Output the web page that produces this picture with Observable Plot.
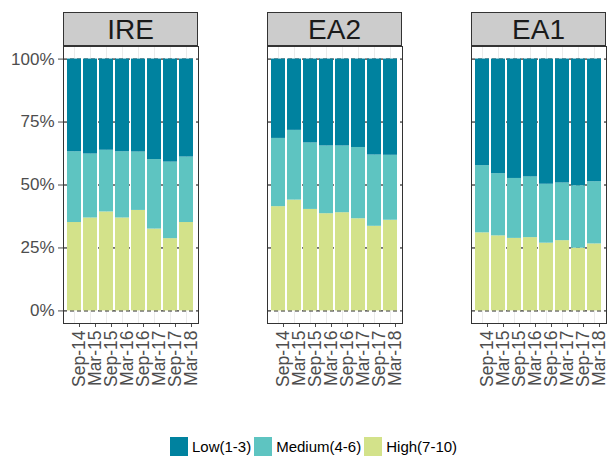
<!DOCTYPE html>
<html><head><meta charset="utf-8">
<script src="https://cdn.jsdelivr.net/npm/d3@7"></script>
<script src="https://cdn.jsdelivr.net/npm/@observablehq/plot@0.6"></script>
<style>
body{margin:0;background:#fff;font-family:"Liberation Sans",Arial,sans-serif;}
#wrap{position:relative;width:609px;height:457px;overflow:hidden;}
#legend{position:absolute;left:170px;top:437px;display:flex;align-items:center;font-size:15px;color:#000;white-space:nowrap;}
.item{display:flex;align-items:center;margin-right:3px;}
.sw{width:18px;height:19px;margin-right:4px;}
</style></head><body><div id="wrap"><div id="chart"></div><div id="legend"></div></div>
<script>
const regions = ["IRE", "EA2", "EA1"];
const periods = ["Sep-14", "Mar-15", "Sep-15", "Mar-16", "Sep-16", "Mar-17", "Sep-17", "Mar-18"];
const levels = ["Low(1-3)", "Medium(4-6)", "High(7-10)"];
const levelColors = ["#00829f", "#5ec4c1", "#d3e28a"];

// shares in percent, per region, per period
const highIRE = [35.1, 36.9, 39.3, 36.9, 39.9, 32.5, 28.7, 35.1];
const mediumIRE = [28.1, 25.4, 24.5, 26.3, 23.2, 27.6, 30.4, 26.0];
const lowIRE = [36.8, 37.7, 36.2, 36.8, 36.9, 39.9, 40.9, 38.9];

const highEA2 = [41.4, 44.0, 40.3, 38.6, 39.0, 36.6, 33.6, 36.0];
const mediumEA2 = [27.1, 27.7, 26.4, 26.9, 26.5, 28.3, 28.3, 25.8];
const lowEA2 = [31.5, 28.3, 33.3, 34.5, 34.5, 35.1, 38.1, 38.2];

const highEA1 = [31.0, 29.8, 28.8, 29.1, 26.9, 27.9, 24.9, 26.6];
const mediumEA1 = [26.7, 24.7, 23.8, 24.1, 23.4, 22.9, 24.8, 24.7];
const lowEA1 = [42.3, 45.5, 47.4, 46.8, 49.7, 49.2, 50.3, 48.7];

const yTicks = [0, 0.25, 0.5, 0.75, 1];

const series = {
  IRE: {"High(7-10)": highIRE, "Medium(4-6)": mediumIRE, "Low(1-3)": lowIRE},
  EA2: {"High(7-10)": highEA2, "Medium(4-6)": mediumEA2, "Low(1-3)": lowEA2},
  EA1: {"High(7-10)": highEA1, "Medium(4-6)": mediumEA1, "Low(1-3)": lowEA1}
};
// stack order: High at bottom, then Medium, then Low
const stackOrder = ["High(7-10)", "Medium(4-6)", "Low(1-3)"];
const data = [];
for (const r of regions) {
  periods.forEach((p, i) => {
    for (const lv of stackOrder) data.push({region: r, period: p, level: lv, value: series[r][lv][i]});
  });
}

const font = "'Liberation Sans', Arial, sans-serif";
const chart = Plot.plot({
  width: 609,
  height: 410,
  marginTop: 46,
  marginBottom: 87,
  marginLeft: 62,
  marginRight: 2,
  style: {fontFamily: font, background: "white", overflow: "visible"},
  fx: {domain: regions, paddingInner: 69 / 205, paddingOuter: 0, axis: null, label: null},
  x: {domain: periods, paddingInner: 0.1, paddingOuter: 0.15, label: null},
  y: {domain: [-0.05, 1.05], label: null},
  color: {domain: levels, range: levelColors},
  marks: [
    Plot.gridX({stroke: "#ebebeb", strokeOpacity: 1, strokeWidth: 1}),
    Plot.ruleY(yTicks, {stroke: "#000", strokeDasharray: "4,3", strokeWidth: 1}),
    Plot.barY(data, {fx: "region", x: "period", y: "value", fill: "level", offset: "normalize"}),
    Plot.axisY({ticks: yTicks, tickFormat: d3.format(".0%"), fontSize: 17, color: "#4d4d4d", tickSize: 5, tickPadding: 4, label: null}),
    Plot.axisX({tickRotate: -90, fontSize: 17.5, color: "#4d4d4d", tickSize: 4, tickPadding: 3, dx: 5, label: null}),
    Plot.frame({stroke: "#333", strokeWidth: 1})
  ]
});
document.getElementById("chart").appendChild(chart);

// facet strips drawn from the fx scale
const fx = chart.scale("fx");
const svg = d3.select(chart);
const strips = svg.append("g");
for (const r of regions) {
  const x0 = fx.apply(r);
  strips.append("rect")
    .attr("x", x0 + 0.5).attr("y", 12.5)
    .attr("width", fx.bandwidth - 1).attr("height", 33)
    .attr("fill", "#cccccc").attr("stroke", "#333");
  strips.append("text")
    .attr("x", x0 + fx.bandwidth / 2).attr("y", 29)
    .attr("text-anchor", "middle").attr("dominant-baseline", "central")
    .attr("font-size", 28).attr("fill", "#1a1a1a").attr("font-family", font)
    .text(r);
}

// legend
const lg = d3.select("#legend");
levels.forEach((lv, i) => {
  const it = lg.append("div").attr("class", "item");
  it.append("div").attr("class", "sw").style("background", levelColors[i]);
  it.append("span").text(lv);
});
</script></body></html>
